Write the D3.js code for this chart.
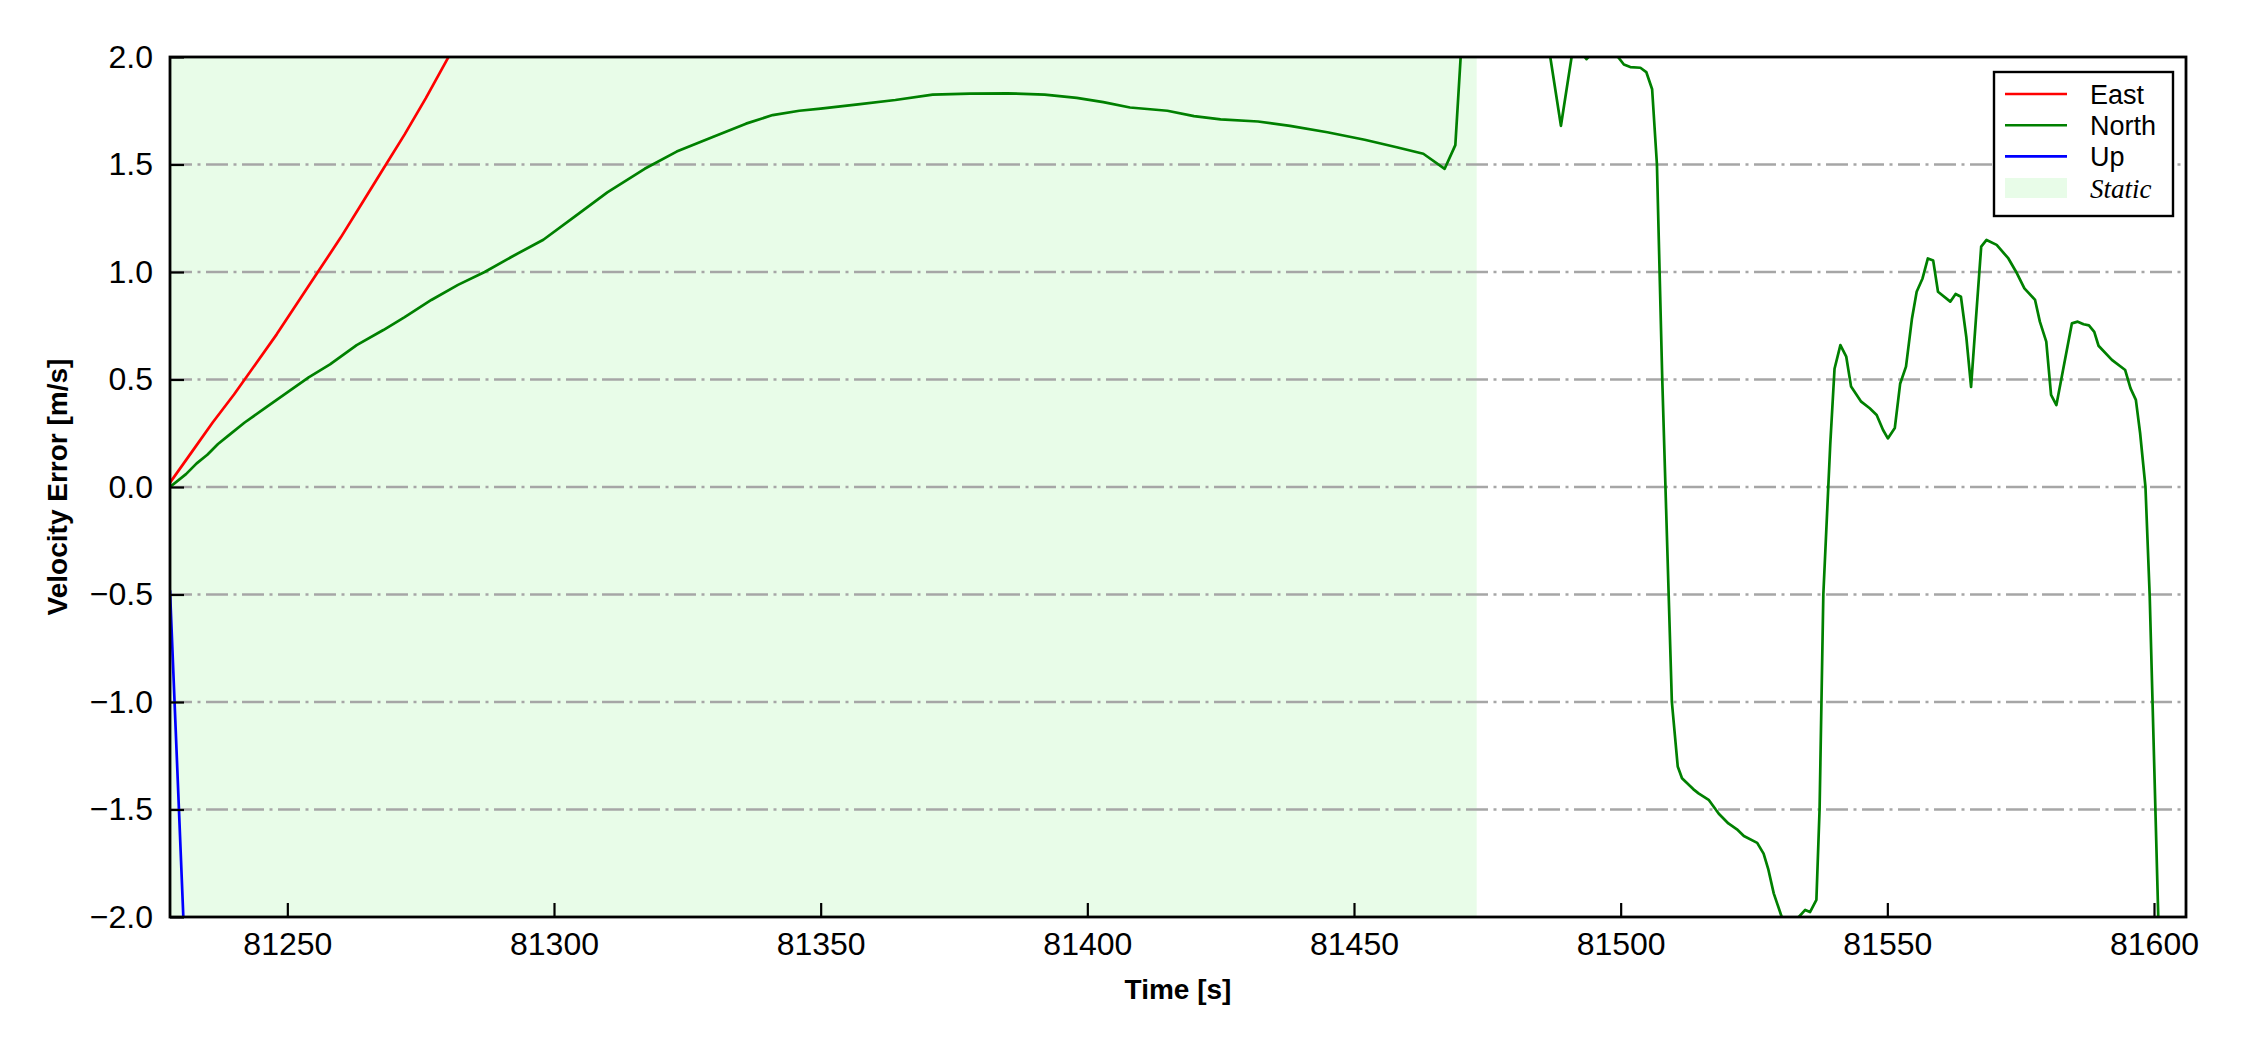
<!DOCTYPE html>
<html>
<head>
<meta charset="utf-8">
<script src="https://cdn.jsdelivr.net/npm/d3@7"></script>
<style>
    body { margin: 0; background: #fff; }
    text { font-family: "Liberation Sans", Arial, sans-serif; }
</style>
</head>
<body>
<div id="chart"></div>
<script>
var WIDTH = 2250,
    HEIGHT = 1050;

var margin = {left: 170, right: 64, top: 57, bottom: 133};

// time ticks and velocity ticks
var xTicks = [81250, 81300, 81350, 81400, 81450, 81500, 81550, 81600];
var yTicks = [-2.0, -1.5, -1.0, -0.5, 0.0, 0.5, 1.0, 1.5, 2.0];
var gridTicks = [-1.5, -1.0, -0.5, 0.0, 0.5, 1.0, 1.5];

var staticSpan = [81228, 81473];

var eastTime = [81228, 81232, 81236, 81240, 81244, 81248, 81252, 81256, 81260, 81264, 81268, 81272, 81276, 81280, 81284];
var eastVal = [0.02, 0.16, 0.30, 0.43, 0.57, 0.71, 0.86, 1.01, 1.16, 1.32, 1.48, 1.64, 1.81, 1.99, 2.17];

var upTime = [81228, 81230.5, 81232];
var upVal = [-0.48, -2.0, -2.9];

var northTime = [
    81228, 81231, 81233, 81235, 81237, 81239, 81242, 81246, 81250, 81254,
    81258, 81263, 81268, 81272, 81277, 81282, 81287, 81292, 81298, 81304,
    81310, 81317, 81323, 81330, 81336, 81341, 81346, 81350, 81357, 81364,
    81371, 81378, 81385, 81392, 81398, 81403, 81408, 81415, 81420, 81425,
    81432, 81438, 81445, 81452, 81458, 81463, 81467, 81469, 81470, 81472,
    81480, 81486.8, 81488.8, 81490.8, 81492, 81493.6, 81495.5, 81499.5, 81500.6, 81501.8,
    81503.7, 81504.8, 81505.9, 81506.8, 81507.3, 81507.8, 81509, 81509.6, 81510.7, 81511.5,
    81513.6, 81514.6, 81516.5, 81518.4, 81520.2, 81521.8, 81523.1, 81525.6, 81526.8, 81527.7,
    81528.7, 81530.2, 81531.5, 81533.4, 81534.6, 81535.5, 81536.7, 81537.3, 81538, 81539.3,
    81540.1, 81541.2, 81542.3, 81543.2, 81545.1, 81546.7, 81548, 81549.2, 81550.1, 81551.4,
    81552.4, 81553.5, 81554.6, 81555.5, 81556.6, 81557.6, 81558.6, 81559.5, 81561.8, 81562.8,
    81563.8, 81564.8, 81565.7, 81566.6, 81567.6, 81568.6, 81570.5, 81572.7, 81574.3, 81575.7,
    81577.7, 81578.6, 81579.8, 81580.7, 81581.7, 81584.6, 81585.7, 81586.8, 81587.8, 81588.8,
    81589.6, 81592.1, 81594.6, 81595.6, 81596.6, 81597.4, 81598.4, 81599.2, 81600.8, 81601.2
];
var northVal = [
    0.0, 0.06, 0.11, 0.15, 0.20, 0.24, 0.30, 0.37, 0.44, 0.51,
    0.57, 0.66, 0.73, 0.79, 0.87, 0.94, 1.00, 1.07, 1.15, 1.26,
    1.37, 1.48, 1.56, 1.63, 1.69, 1.73, 1.75, 1.76, 1.78, 1.80,
    1.825, 1.83, 1.831, 1.825, 1.81, 1.79, 1.765, 1.75, 1.725, 1.71,
    1.70, 1.68, 1.65, 1.615, 1.58, 1.55, 1.48, 1.59, 2.0, 2.6,
    2.9, 2.0, 1.68, 2.0, 2.04, 1.99, 2.04, 2.0, 1.965, 1.953,
    1.95, 1.93, 1.85, 1.5, 1.0, 0.5, -0.5, -1.0, -1.30, -1.355,
    -1.405, -1.425, -1.455, -1.52, -1.565, -1.592, -1.623, -1.655, -1.705, -1.78,
    -1.89, -2.0, -2.08, -2.0, -1.967, -1.977, -1.92, -1.495, -0.5, 0.2,
    0.55, 0.66, 0.606, 0.467, 0.397, 0.366, 0.335, 0.265, 0.226, 0.274,
    0.48, 0.56, 0.78, 0.908, 0.97, 1.063, 1.053, 0.908, 0.862, 0.898,
    0.885, 0.699, 0.466, 0.777, 1.118, 1.149, 1.126, 1.063, 0.994, 0.924,
    0.87, 0.769, 0.676, 0.428, 0.381, 0.761, 0.769, 0.757, 0.752, 0.722,
    0.657, 0.591, 0.544, 0.459, 0.405, 0.25, 0.0, -0.511, -2.0, -2.4
];

var seriesNames = ["East", "North", "Up"];
var seriesColors = ["#ff0000", "#008000", "#0000ff"];
var STATIC_FILL = "#e8fce8";

var plotW = WIDTH - margin.left - margin.right,
    plotH = HEIGHT - margin.top - margin.bottom;

var x = d3.scaleLinear().domain([81228, 81606]).range([0, plotW]);
var y = d3.scaleLinear().domain([-2, 2]).range([plotH, 0]);

var svg = d3.select("#chart")
    .append("svg")
    .attr("width", WIDTH)
    .attr("height", HEIGHT);

var g = svg.append("g")
    .attr("transform", "translate(" + margin.left + "," + margin.top + ")");

g.append("clipPath")
    .attr("id", "plot-clip")
    .append("rect")
    .attr("width", plotW)
    .attr("height", plotH);

// static period shading
g.append("rect")
    .attr("x", x(staticSpan[0]))
    .attr("y", 0)
    .attr("width", x(staticSpan[1]) - x(staticSpan[0]))
    .attr("height", plotH)
    .attr("fill", STATIC_FILL);

g.selectAll(".grid")
    .data(gridTicks)
    .enter().append("line")
    .attr("class", "grid")
    .attr("x1", 0)
    .attr("x2", plotW)
    .attr("y1", function (d) { return y(d); })
    .attr("y2", function (d) { return y(d); })
    .attr("stroke", "#a6a6a6")
    .attr("stroke-width", 2.6)
    .attr("stroke-dasharray", "22,5.5,3,5.5");

function toPoints(ts, vs) {
    return ts.map(function (t, i) {
        return [t, vs[i]];
    });
}

var line = d3.line()
    .x(function (d) { return x(d[0]); })
    .y(function (d) { return y(d[1]); });

var series = [
    toPoints(eastTime, eastVal),
    toPoints(northTime, northVal),
    toPoints(upTime, upVal)
];

var lines = g.append("g").attr("clip-path", "url(#plot-clip)");
series.forEach(function (pts, i) {
    lines.append("path")
        .datum(pts)
        .attr("d", line)
        .attr("fill", "none")
        .attr("stroke", seriesColors[i])
        .attr("stroke-width", 2.7)
        .attr("stroke-linejoin", "round");
});

// axes with inward ticks
var xAxis = g.append("g")
    .attr("transform", "translate(0," + plotH + ")")
    .call(d3.axisBottom(x)
        .tickValues(xTicks)
        .tickFormat(d3.format("d"))
        .tickSizeInner(-14)
        .tickSizeOuter(0)
        .tickPadding(15));

var yAxis = g.append("g")
    .call(d3.axisLeft(y)
        .tickValues(yTicks)
        .tickFormat(d3.format(".1f"))
        .tickSizeInner(-14)
        .tickSizeOuter(0)
        .tickPadding(17));

[xAxis, yAxis].forEach(function (ax) {
    ax.select(".domain").remove();
    ax.selectAll(".tick line")
        .attr("stroke", "#000")
        .attr("stroke-width", 2.2);
    ax.selectAll(".tick text")
        .attr("fill", "#000")
        .style("font-size", "32px")
        .style("font-family", "'Liberation Sans', Arial, sans-serif");
});

// frame
g.append("rect")
    .attr("width", plotW)
    .attr("height", plotH)
    .attr("fill", "none")
    .attr("stroke", "#000")
    .attr("stroke-width", 2.8);

g.append("text")
    .attr("x", plotW / 2)
    .attr("y", plotH + 82)
    .attr("text-anchor", "middle")
    .style("font-size", "28px")
    .style("font-weight", "bold")
    .text("Time [s]");

g.append("text")
    .attr("transform", "translate(" + (67 - margin.left) + "," + (plotH / 2) + ") rotate(-90)")
    .attr("text-anchor", "middle")
    .style("font-size", "28px")
    .style("font-weight", "bold")
    .text("Velocity Error [m/s]");

// legend
var legend = svg.append("g")
    .attr("transform", "translate(1994,72)");

legend.append("rect")
    .attr("width", 179)
    .attr("height", 144)
    .attr("fill", "#fff")
    .attr("stroke", "#000")
    .attr("stroke-width", 2.4);

seriesNames.forEach(function (name, i) {
    var ly = 22 + i * 31.2;
    legend.append("line")
        .attr("x1", 11)
        .attr("x2", 73)
        .attr("y1", ly)
        .attr("y2", ly)
        .attr("stroke", seriesColors[i])
        .attr("stroke-width", 2.6);
    legend.append("text")
        .attr("x", 96)
        .attr("y", ly)
        .attr("dy", "0.36em")
        .style("font-size", "27px")
        .text(name);
});

legend.append("rect")
    .attr("x", 11)
    .attr("y", 106)
    .attr("width", 62)
    .attr("height", 20)
    .attr("fill", STATIC_FILL);

legend.append("text")
    .attr("x", 96)
    .attr("y", 116)
    .attr("dy", "0.36em")
    .style("font-size", "27px")
    .style("font-style", "italic")
    .style("font-family", "'Liberation Serif', 'Times New Roman', serif")
    .text("Static");
</script>
</body>
</html>
